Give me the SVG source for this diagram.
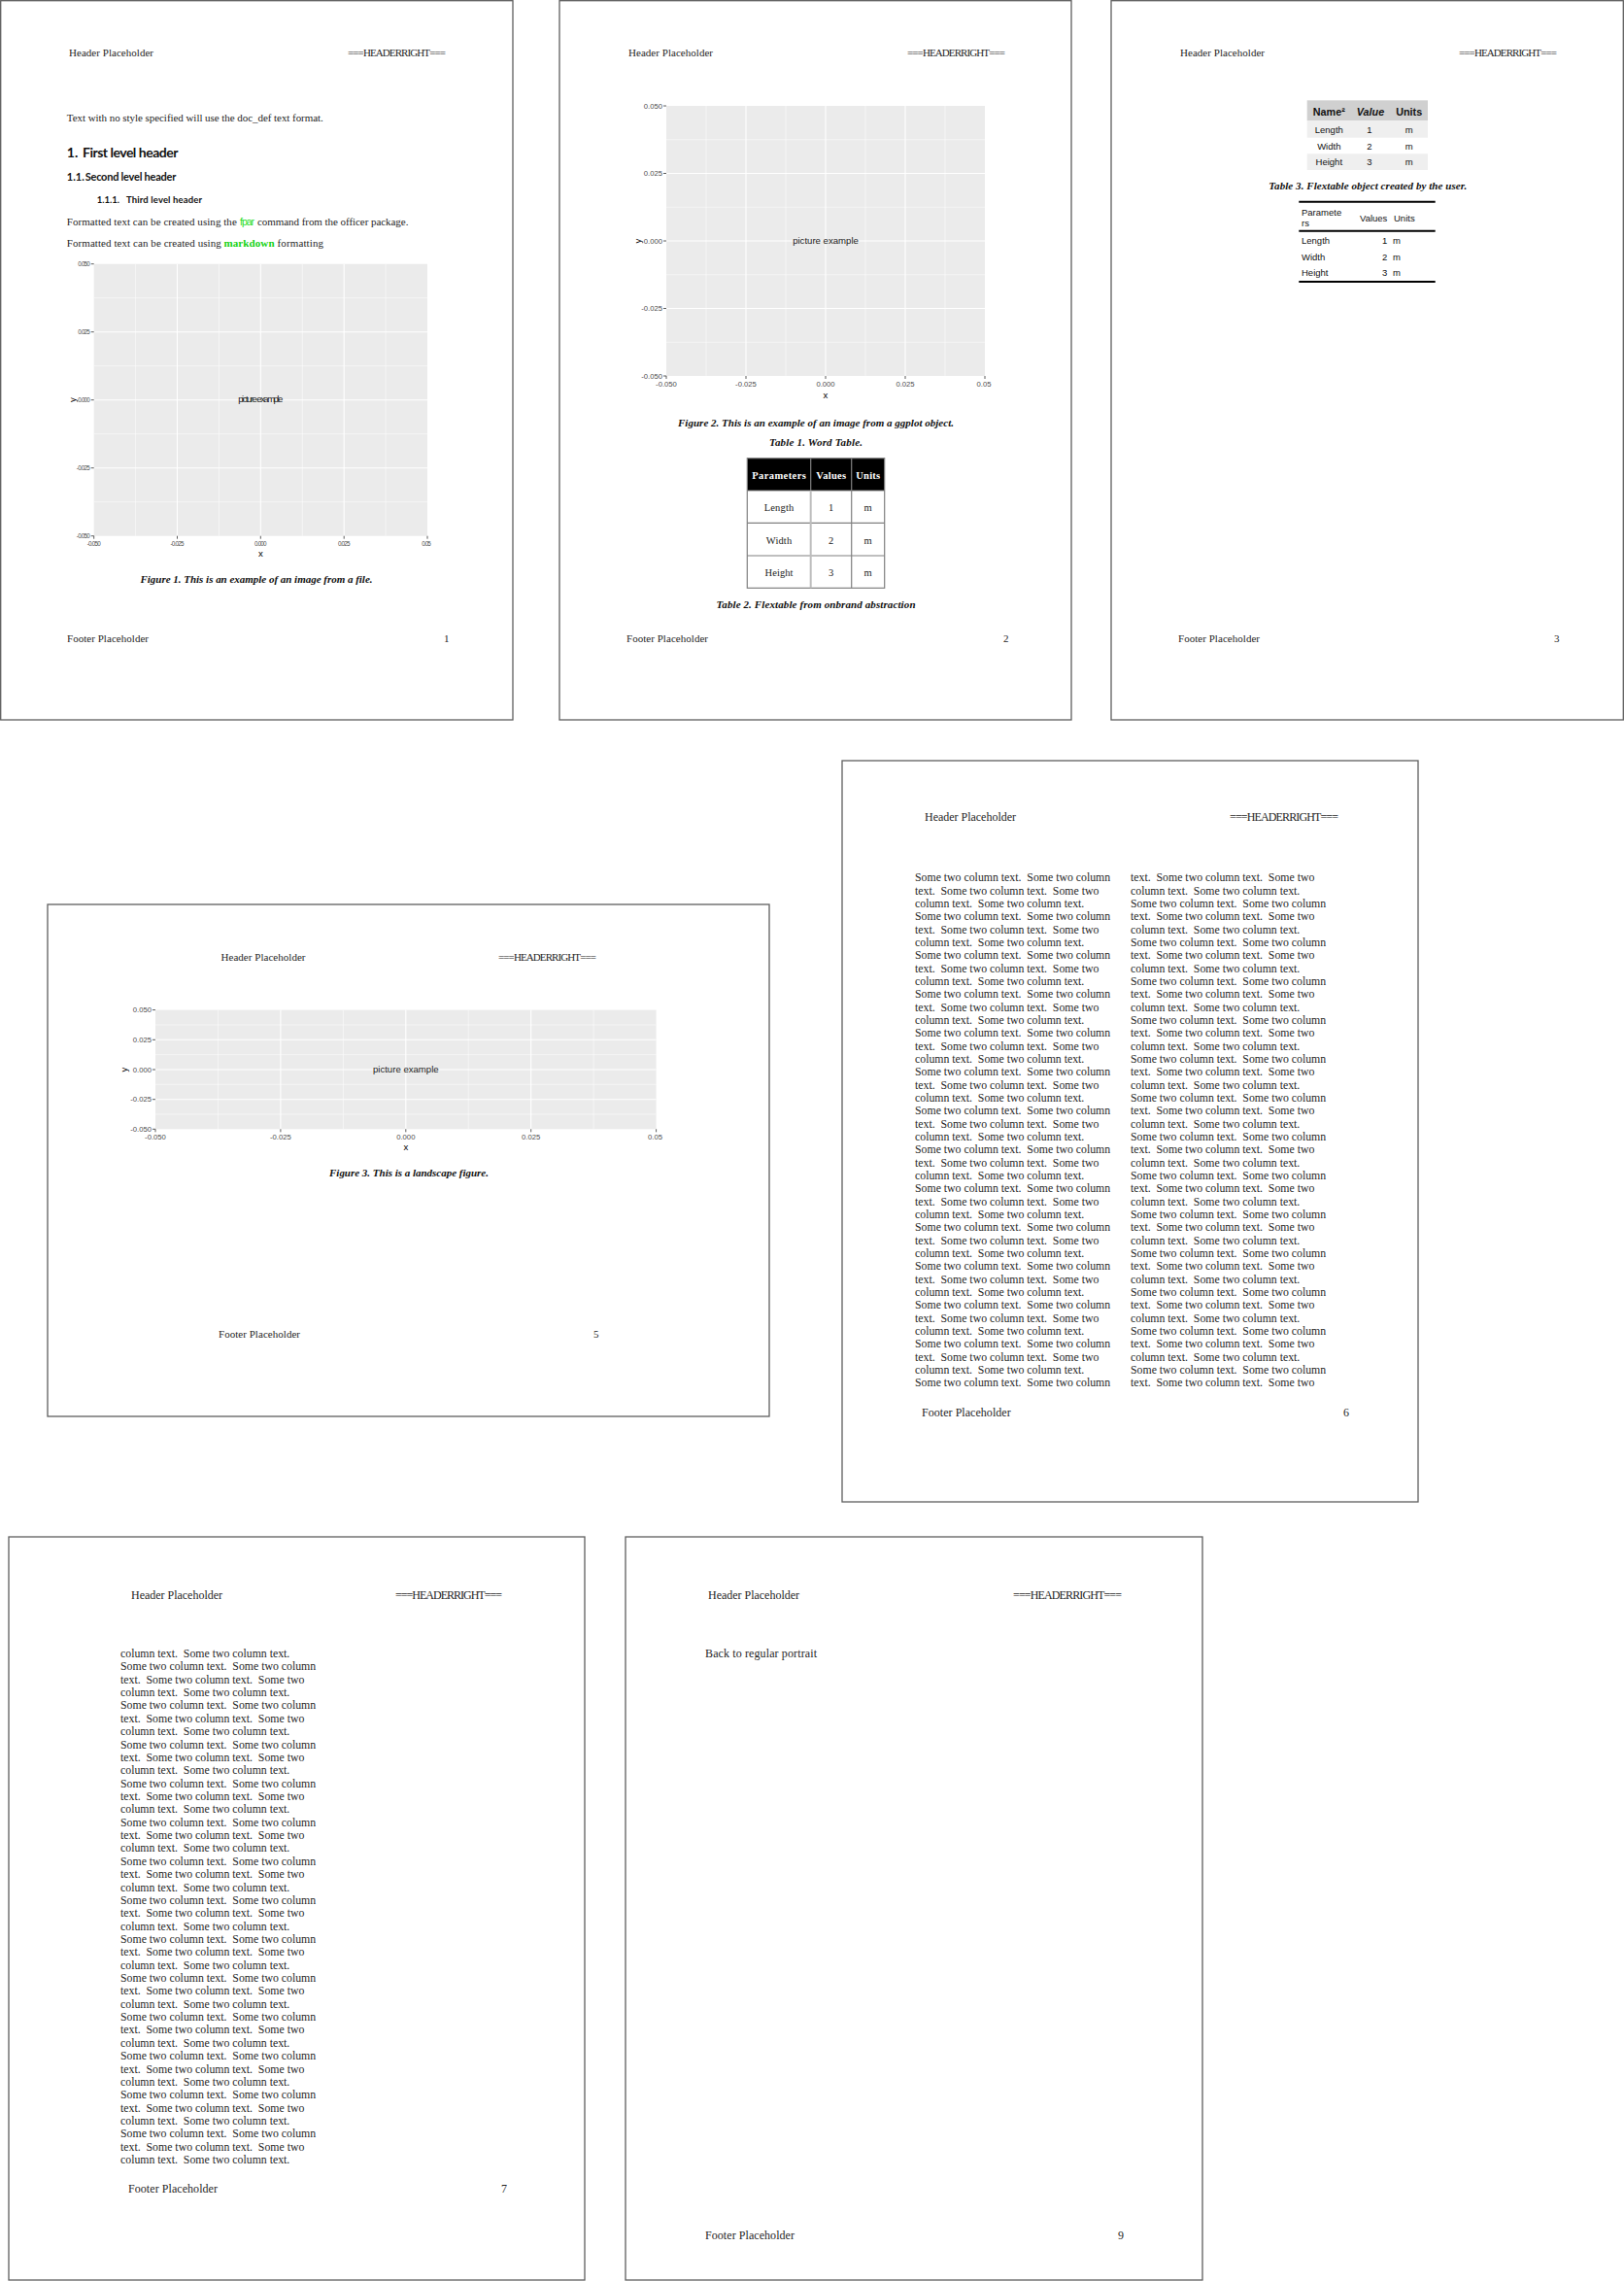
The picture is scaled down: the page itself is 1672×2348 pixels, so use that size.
<svg xmlns="http://www.w3.org/2000/svg" width="1672" height="2348" viewBox="0 0 1672 2348">
<style>
.pgrp{opacity:0.998}
.pg{fill:#fff;stroke:#5f5f5f;stroke-width:1.3}
.hd{font-family:"Liberation Serif",serif;font-size:11px;fill:#262626}
.hd2{font-family:"Liberation Serif",serif;font-size:12px;fill:#262626}
.body{font-family:"Liberation Serif",serif;font-size:11px;fill:#262626}
.cap{font-family:"Liberation Serif",serif;font-weight:bold;font-style:italic;font-size:11px;fill:#111;text-anchor:middle}
.h{font-family:Lato,"Liberation Sans",sans-serif;font-weight:bold;fill:#111}
.col{font-family:"Liberation Serif",serif;font-size:11.8px;fill:#262626;white-space:pre}
.panel{fill:#EBEBEB}
.gmaj{stroke:#fff;stroke-width:1.1}
.gmin{stroke:#fff;stroke-width:0.5}
.tick{stroke:#333;stroke-width:0.8}
.tl{font-family:"Liberation Sans",sans-serif;font-size:7.7px;fill:#4D4D4D}
.tlc{font-family:"Liberation Sans",sans-serif;font-size:6.3px;fill:#4D4D4D}
.ax{font-family:"Liberation Sans",sans-serif;font-size:9.6px;fill:#000;text-anchor:middle}
.pe{font-family:"Liberation Sans",sans-serif;font-size:9.6px;fill:#1a1a1a;text-anchor:middle}
.end{text-anchor:end}
.mid{text-anchor:middle}
.tb{font-family:"Liberation Serif",serif;font-size:10.5px;fill:#222;text-anchor:middle}
.tbh{font-family:"Liberation Serif",serif;font-size:10.5px;font-weight:bold;fill:#fff;text-anchor:middle}
.ft{font-family:"Liberation Sans",sans-serif;font-size:9.5px;fill:#111}
.fth{font-family:"Liberation Sans",sans-serif;font-size:10.8px;font-weight:bold;fill:#111;text-anchor:middle}
.cell{stroke:#808080;stroke-width:1.2;fill:none}
.rule{stroke:#000;stroke-width:2}
</style>

<g id="page1" class="pgrp">
<rect class="pg" x="0.7" y="0.7" width="527.3" height="740.3"/>
<text class="hd" x="71" y="58" textLength="87">Header Placeholder</text>
<text class="hd" x="358" y="58" textLength="101">===HEADERRIGHT===</text>
<text class="body" x="68.8" y="124.5" textLength="264">Text with no style specified will use the doc_def text format.</text>
<text class="h" x="68.8" y="161.5" font-size="14">1.</text>
<text class="h" x="85" y="161.5" font-size="14" textLength="98.4">First level header</text>
<text class="h" x="68.8" y="185.5" font-size="11">1.1.</text>
<text class="h" x="87.7" y="185.5" font-size="11" textLength="93.6">Second level header</text>
<text class="h" x="99.8" y="209" font-size="9.5">1.1.1.</text>
<text class="h" x="130" y="209" font-size="9.5" textLength="78">Third level header</text>
<text class="body" x="68.8" y="232" textLength="175">Formatted text can be created using the</text>
<text x="247" y="232" font-family="Liberation Sans,sans-serif" font-size="10.5" fill="#1EDC1E" textLength="15">fpar</text>
<text class="body" x="265" y="232" textLength="155.4">command from the officer package.</text>
<text class="body" x="68.8" y="254" textLength="159">Formatted text can be created using</text>
<text class="body" x="230.5" y="254" font-weight="bold" style="fill:#14D214" textLength="52">markdown</text>
<text class="body" x="285.6" y="254" textLength="47.4">formatting</text>
<g id="plot1">
<rect class="panel" x="96.7" y="271.7" width="343.3" height="280"/>
<line class="gmin" x1="139.6" y1="271.7" x2="139.6" y2="551.7"/>
<line class="gmin" x1="225.4" y1="271.7" x2="225.4" y2="551.7"/>
<line class="gmin" x1="311.3" y1="271.7" x2="311.3" y2="551.7"/>
<line class="gmin" x1="397.1" y1="271.7" x2="397.1" y2="551.7"/>
<line class="gmin" x1="96.7" y1="306.7" x2="440" y2="306.7"/>
<line class="gmin" x1="96.7" y1="376.7" x2="440" y2="376.7"/>
<line class="gmin" x1="96.7" y1="446.7" x2="440" y2="446.7"/>
<line class="gmin" x1="96.7" y1="516.7" x2="440" y2="516.7"/>
<line class="gmaj" x1="182.5" y1="271.7" x2="182.5" y2="551.7"/>
<line class="gmaj" x1="268.3" y1="271.7" x2="268.3" y2="551.7"/>
<line class="gmaj" x1="354.2" y1="271.7" x2="354.2" y2="551.7"/>
<line class="gmaj" x1="96.7" y1="341.7" x2="440" y2="341.7"/>
<line class="gmaj" x1="96.7" y1="411.7" x2="440" y2="411.7"/>
<line class="gmaj" x1="96.7" y1="481.7" x2="440" y2="481.7"/>
<path class="tick" d="M93.7 271.7H96.7M93.7 341.7H96.7M93.7 411.7H96.7M93.7 481.7H96.7M93.7 551.7H96.7M96.7 551.7V554.7M182.5 551.7V554.7M268.3 551.7V554.7M354.2 551.7V554.7M440 551.7V554.7"/>
<text class="tlc end" x="92.8" y="273.9" textLength="12.5">0.050</text>
<text class="tlc end" x="92.8" y="343.9" textLength="12.5">0.025</text>
<text class="tlc end" x="92.8" y="413.9" textLength="12.5">0.000</text>
<text class="tlc end" x="92.8" y="483.9" textLength="14">-0.025</text>
<text class="tlc end" x="92.8" y="553.9" textLength="14">-0.050</text>
<text class="tlc mid" x="96.7" y="561.5" textLength="14">-0.050</text>
<text class="tlc mid" x="182.5" y="561.5" textLength="14">-0.025</text>
<text class="tlc mid" x="268.3" y="561.5" textLength="12.5">0.000</text>
<text class="tlc mid" x="354.2" y="561.5" textLength="12.5">0.025</text>
<text class="tlc mid" x="439" y="561.5" textLength="9.5">0.05</text>
<text class="ax" x="268.3" y="573" font-size="7.5">x</text>
<text class="ax" x="0" y="0" font-size="7.5" transform="translate(77.5 411.7) rotate(-90)">y</text>
<text class="pe" x="268.3" y="414.3" font-size="7" textLength="46">picture example</text>
</g>
<text class="cap" x="264" y="600" textLength="239">Figure 1. This is an example of an image from a file.</text>
<text class="hd" x="69" y="661" textLength="84">Footer Placeholder</text>
<text class="hd" x="457" y="661">1</text>
</g>

<g id="page2" class="pgrp">
<rect class="pg" x="576" y="0.7" width="527" height="740.3"/>
<text class="hd" x="647" y="58" textLength="87">Header Placeholder</text>
<text class="hd" x="934" y="58" textLength="101">===HEADERRIGHT===</text>
<g id="plot2">
<rect class="panel" x="686" y="109" width="328" height="278"/>
<line class="gmin" x1="727" y1="109" x2="727" y2="387"/>
<line class="gmin" x1="809" y1="109" x2="809" y2="387"/>
<line class="gmin" x1="891" y1="109" x2="891" y2="387"/>
<line class="gmin" x1="973" y1="109" x2="973" y2="387"/>
<line class="gmin" x1="686" y1="143.75" x2="1014" y2="143.75"/>
<line class="gmin" x1="686" y1="213.25" x2="1014" y2="213.25"/>
<line class="gmin" x1="686" y1="282.75" x2="1014" y2="282.75"/>
<line class="gmin" x1="686" y1="352.25" x2="1014" y2="352.25"/>
<line class="gmaj" x1="768" y1="109" x2="768" y2="387"/>
<line class="gmaj" x1="850" y1="109" x2="850" y2="387"/>
<line class="gmaj" x1="932" y1="109" x2="932" y2="387"/>
<line class="gmaj" x1="686" y1="178.5" x2="1014" y2="178.5"/>
<line class="gmaj" x1="686" y1="248" x2="1014" y2="248"/>
<line class="gmaj" x1="686" y1="317.5" x2="1014" y2="317.5"/>
<path class="tick" d="M683 109H686M683 178.5H686M683 248H686M683 317.5H686M683 387H686M686 387V390M768 387V390M850 387V390M932 387V390M1014 387V390"/>
<text class="tl end" x="682" y="111.7">0.050</text>
<text class="tl end" x="682" y="181.2">0.025</text>
<text class="tl end" x="682" y="250.7">0.000</text>
<text class="tl end" x="682" y="320.2">-0.025</text>
<text class="tl end" x="682" y="389.7">-0.050</text>
<text class="tl mid" x="686" y="397.5">-0.050</text>
<text class="tl mid" x="768" y="397.5">-0.025</text>
<text class="tl mid" x="850" y="397.5">0.000</text>
<text class="tl mid" x="932" y="397.5">0.025</text>
<text class="tl mid" x="1013" y="397.5">0.05</text>
<text class="ax" x="850" y="409.5">x</text>
<text class="ax" x="0" y="0" transform="translate(659.5 248) rotate(-90)">y</text>
<text class="pe" x="850" y="251.4">picture example</text>
</g>
<text class="cap" x="840" y="438.5" textLength="284">Figure 2. This is an example of an image from a ggplot object.</text>
<text class="cap" x="840" y="458.5" textLength="96">Table 1. Word Table.</text>
<g id="table1">
<rect x="769.3" y="471.7" width="141.4" height="33.3" fill="#000"/>
<rect class="cell" x="769.3" y="471.7" width="141.4" height="133.6"/>
<path class="cell" d="M769.3 505H910.7M769.3 538.3H910.7M769.3 572H910.7M876.7 471.7V605.3M834.7 471.7V505"/>
<path d="M834.7 505V605.3" stroke="#BDBDBD" stroke-width="2"/>
<text class="tbh" x="802" y="492.5" textLength="55.7">Parameters</text>
<text class="tbh" x="855.7" y="492.5" textLength="31">Values</text>
<text class="tbh" x="893.7" y="492.5" textLength="25">Units</text>
<text class="tb" x="802" y="526" textLength="30.7">Length</text>
<text class="tb" x="855.7" y="526">1</text>
<text class="tb" x="893.7" y="526">m</text>
<text class="tb" x="802" y="559.7" textLength="26.3">Width</text>
<text class="tb" x="855.7" y="559.7">2</text>
<text class="tb" x="893.7" y="559.7">m</text>
<text class="tb" x="802" y="593.4" textLength="29">Height</text>
<text class="tb" x="855.7" y="593.4">3</text>
<text class="tb" x="893.7" y="593.4">m</text>
</g>
<text class="cap" x="840" y="626" textLength="205">Table 2. Flextable from onbrand abstraction</text>
<text class="hd" x="645" y="661" textLength="84">Footer Placeholder</text>
<text class="hd" x="1033" y="661">2</text>
</g>

<g id="page3" class="pgrp">
<rect class="pg" x="1144" y="0.7" width="527.3" height="740.3"/>
<text class="hd" x="1215" y="58" textLength="87">Header Placeholder</text>
<text class="hd" x="1502" y="58" textLength="101">===HEADERRIGHT===</text>
<g id="table3a">
<rect x="1345.7" y="103.3" width="124.3" height="21" fill="#D0D0D0"/>
<rect x="1345.7" y="124.3" width="124.3" height="17.4" fill="#EFEFEF"/>
<rect x="1345.7" y="158.3" width="124.3" height="16.7" fill="#EFEFEF"/>
<text class="fth" x="1368.3" y="118.8">Name²</text>
<text class="fth" x="1411" y="118.8" font-style="italic">Value</text>
<text class="fth" x="1450.7" y="118.8">Units</text>
<text class="ft mid" x="1368.3" y="136.8">Length</text>
<text class="ft mid" x="1410" y="136.8">1</text>
<text class="ft mid" x="1450.7" y="136.8">m</text>
<text class="ft mid" x="1368.3" y="153.5">Width</text>
<text class="ft mid" x="1410" y="153.5">2</text>
<text class="ft mid" x="1450.7" y="153.5">m</text>
<text class="ft mid" x="1368.3" y="170.2">Height</text>
<text class="ft mid" x="1410" y="170.2">3</text>
<text class="ft mid" x="1450.7" y="170.2">m</text>
</g>
<text class="cap" x="1408.3" y="195" textLength="204">Table 3. Flextable object created by the user.</text>
<g id="table3b">
<path class="rule" d="M1337.3 207.7H1477.7M1337.3 237.7H1477.7M1337.3 290H1477.7"/>
<text class="ft" x="1340" y="221.5">Paramete</text>
<text class="ft" x="1340" y="232.5">rs</text>
<text class="ft" x="1400" y="227.5">Values</text>
<text class="ft" x="1435" y="227.5">Units</text>
<text class="ft" x="1340" y="250.8">Length</text>
<text class="ft end" x="1428.3" y="250.8">1</text>
<text class="ft" x="1434" y="250.8">m</text>
<text class="ft" x="1340" y="267.5">Width</text>
<text class="ft end" x="1428.3" y="267.5">2</text>
<text class="ft" x="1434" y="267.5">m</text>
<text class="ft" x="1340" y="284.2">Height</text>
<text class="ft end" x="1428.3" y="284.2">3</text>
<text class="ft" x="1434" y="284.2">m</text>
</g>
<text class="hd" x="1213" y="661" textLength="84">Footer Placeholder</text>
<text class="hd" x="1600" y="661">3</text>
</g>

<g id="page5" class="pgrp">
<rect class="pg" x="49" y="931" width="743" height="527"/>
<text class="hd" x="227.5" y="989" textLength="87">Header Placeholder</text>
<text class="hd" x="513" y="989" textLength="101">===HEADERRIGHT===</text>
<g id="plot3">
<rect class="panel" x="160" y="1039.6" width="515.6" height="122.7"/>
<line class="gmin" x1="224.5" y1="1039.6" x2="224.5" y2="1162.3"/>
<line class="gmin" x1="353.4" y1="1039.6" x2="353.4" y2="1162.3"/>
<line class="gmin" x1="482.2" y1="1039.6" x2="482.2" y2="1162.3"/>
<line class="gmin" x1="611.1" y1="1039.6" x2="611.1" y2="1162.3"/>
<line class="gmin" x1="160" y1="1055" x2="675.6" y2="1055"/>
<line class="gmin" x1="160" y1="1085.7" x2="675.6" y2="1085.7"/>
<line class="gmin" x1="160" y1="1116.3" x2="675.6" y2="1116.3"/>
<line class="gmin" x1="160" y1="1147" x2="675.6" y2="1147"/>
<line class="gmaj" x1="288.9" y1="1039.6" x2="288.9" y2="1162.3"/>
<line class="gmaj" x1="417.8" y1="1039.6" x2="417.8" y2="1162.3"/>
<line class="gmaj" x1="546.7" y1="1039.6" x2="546.7" y2="1162.3"/>
<line class="gmaj" x1="160" y1="1070.3" x2="675.6" y2="1070.3"/>
<line class="gmaj" x1="160" y1="1101" x2="675.6" y2="1101"/>
<line class="gmaj" x1="160" y1="1131.7" x2="675.6" y2="1131.7"/>
<path class="tick" d="M157 1039.6H160M157 1070.3H160M157 1101H160M157 1131.7H160M157 1162.3H160M160 1162.3V1165.3M288.9 1162.3V1165.3M417.8 1162.3V1165.3M546.7 1162.3V1165.3M675.6 1162.3V1165.3"/>
<text class="tl end" x="156" y="1042.3">0.050</text>
<text class="tl end" x="156" y="1073">0.025</text>
<text class="tl end" x="156" y="1103.7">0.000</text>
<text class="tl end" x="156" y="1134.4">-0.025</text>
<text class="tl end" x="156" y="1165">-0.050</text>
<text class="tl mid" x="160" y="1173">-0.050</text>
<text class="tl mid" x="288.9" y="1173">-0.025</text>
<text class="tl mid" x="417.8" y="1173">0.000</text>
<text class="tl mid" x="546.7" y="1173">0.025</text>
<text class="tl mid" x="674.5" y="1173">0.05</text>
<text class="ax" x="417.8" y="1184">x</text>
<text class="ax" x="0" y="0" transform="translate(131 1101) rotate(-90)">y</text>
<text class="pe" x="417.8" y="1104.4">picture example</text>
</g>
<text class="cap" x="421" y="1211" textLength="164">Figure 3. This is a landscape figure.</text>
<text class="hd" x="225" y="1377" textLength="84">Footer Placeholder</text>
<text class="hd" x="611" y="1377">5</text>
</g>

<g id="page6" class="pgrp" xml:space="preserve">
<rect class="pg" x="867" y="783" width="593" height="763"/>
<text class="hd2" x="952" y="845" textLength="94">Header Placeholder</text>
<text class="hd2" x="1266" y="845" textLength="112">===HEADERRIGHT===</text>
<g id="col6a">
<text class="col" x="942" y="907.3">Some two column text.  Some two column</text>
<text class="col" x="942" y="920.6">text.  Some two column text.  Some two</text>
<text class="col" x="942" y="934">column text.  Some two column text.</text>
<text class="col" x="942" y="947.3">Some two column text.  Some two column</text>
<text class="col" x="942" y="960.6">text.  Some two column text.  Some two</text>
<text class="col" x="942" y="974">column text.  Some two column text.</text>
<text class="col" x="942" y="987.3">Some two column text.  Some two column</text>
<text class="col" x="942" y="1000.6">text.  Some two column text.  Some two</text>
<text class="col" x="942" y="1014">column text.  Some two column text.</text>
<text class="col" x="942" y="1027.3">Some two column text.  Some two column</text>
<text class="col" x="942" y="1040.6">text.  Some two column text.  Some two</text>
<text class="col" x="942" y="1054">column text.  Some two column text.</text>
<text class="col" x="942" y="1067.3">Some two column text.  Some two column</text>
<text class="col" x="942" y="1080.6">text.  Some two column text.  Some two</text>
<text class="col" x="942" y="1094">column text.  Some two column text.</text>
<text class="col" x="942" y="1107.3">Some two column text.  Some two column</text>
<text class="col" x="942" y="1120.6">text.  Some two column text.  Some two</text>
<text class="col" x="942" y="1134">column text.  Some two column text.</text>
<text class="col" x="942" y="1147.3">Some two column text.  Some two column</text>
<text class="col" x="942" y="1160.6">text.  Some two column text.  Some two</text>
<text class="col" x="942" y="1174">column text.  Some two column text.</text>
<text class="col" x="942" y="1187.3">Some two column text.  Some two column</text>
<text class="col" x="942" y="1200.6">text.  Some two column text.  Some two</text>
<text class="col" x="942" y="1214">column text.  Some two column text.</text>
<text class="col" x="942" y="1227.3">Some two column text.  Some two column</text>
<text class="col" x="942" y="1240.6">text.  Some two column text.  Some two</text>
<text class="col" x="942" y="1254">column text.  Some two column text.</text>
<text class="col" x="942" y="1267.3">Some two column text.  Some two column</text>
<text class="col" x="942" y="1280.6">text.  Some two column text.  Some two</text>
<text class="col" x="942" y="1294">column text.  Some two column text.</text>
<text class="col" x="942" y="1307.3">Some two column text.  Some two column</text>
<text class="col" x="942" y="1320.6">text.  Some two column text.  Some two</text>
<text class="col" x="942" y="1334">column text.  Some two column text.</text>
<text class="col" x="942" y="1347.3">Some two column text.  Some two column</text>
<text class="col" x="942" y="1360.6">text.  Some two column text.  Some two</text>
<text class="col" x="942" y="1374">column text.  Some two column text.</text>
<text class="col" x="942" y="1387.3">Some two column text.  Some two column</text>
<text class="col" x="942" y="1400.6">text.  Some two column text.  Some two</text>
<text class="col" x="942" y="1414">column text.  Some two column text.</text>
<text class="col" x="942" y="1427.3">Some two column text.  Some two column</text>
</g>
<g id="col6b">
<text class="col" x="1164" y="907.3">text.  Some two column text.  Some two</text>
<text class="col" x="1164" y="920.6">column text.  Some two column text.</text>
<text class="col" x="1164" y="934">Some two column text.  Some two column</text>
<text class="col" x="1164" y="947.3">text.  Some two column text.  Some two</text>
<text class="col" x="1164" y="960.6">column text.  Some two column text.</text>
<text class="col" x="1164" y="974">Some two column text.  Some two column</text>
<text class="col" x="1164" y="987.3">text.  Some two column text.  Some two</text>
<text class="col" x="1164" y="1000.6">column text.  Some two column text.</text>
<text class="col" x="1164" y="1014">Some two column text.  Some two column</text>
<text class="col" x="1164" y="1027.3">text.  Some two column text.  Some two</text>
<text class="col" x="1164" y="1040.6">column text.  Some two column text.</text>
<text class="col" x="1164" y="1054">Some two column text.  Some two column</text>
<text class="col" x="1164" y="1067.3">text.  Some two column text.  Some two</text>
<text class="col" x="1164" y="1080.6">column text.  Some two column text.</text>
<text class="col" x="1164" y="1094">Some two column text.  Some two column</text>
<text class="col" x="1164" y="1107.3">text.  Some two column text.  Some two</text>
<text class="col" x="1164" y="1120.6">column text.  Some two column text.</text>
<text class="col" x="1164" y="1134">Some two column text.  Some two column</text>
<text class="col" x="1164" y="1147.3">text.  Some two column text.  Some two</text>
<text class="col" x="1164" y="1160.6">column text.  Some two column text.</text>
<text class="col" x="1164" y="1174">Some two column text.  Some two column</text>
<text class="col" x="1164" y="1187.3">text.  Some two column text.  Some two</text>
<text class="col" x="1164" y="1200.6">column text.  Some two column text.</text>
<text class="col" x="1164" y="1214">Some two column text.  Some two column</text>
<text class="col" x="1164" y="1227.3">text.  Some two column text.  Some two</text>
<text class="col" x="1164" y="1240.6">column text.  Some two column text.</text>
<text class="col" x="1164" y="1254">Some two column text.  Some two column</text>
<text class="col" x="1164" y="1267.3">text.  Some two column text.  Some two</text>
<text class="col" x="1164" y="1280.6">column text.  Some two column text.</text>
<text class="col" x="1164" y="1294">Some two column text.  Some two column</text>
<text class="col" x="1164" y="1307.3">text.  Some two column text.  Some two</text>
<text class="col" x="1164" y="1320.6">column text.  Some two column text.</text>
<text class="col" x="1164" y="1334">Some two column text.  Some two column</text>
<text class="col" x="1164" y="1347.3">text.  Some two column text.  Some two</text>
<text class="col" x="1164" y="1360.6">column text.  Some two column text.</text>
<text class="col" x="1164" y="1374">Some two column text.  Some two column</text>
<text class="col" x="1164" y="1387.3">text.  Some two column text.  Some two</text>
<text class="col" x="1164" y="1400.6">column text.  Some two column text.</text>
<text class="col" x="1164" y="1414">Some two column text.  Some two column</text>
<text class="col" x="1164" y="1427.3">text.  Some two column text.  Some two</text>
</g>
<text class="hd2" x="949" y="1458" textLength="91.7">Footer Placeholder</text>
<text class="hd2" x="1383" y="1458">6</text>
</g>

<g id="page7" class="pgrp" xml:space="preserve">
<rect class="pg" x="9" y="1582" width="593" height="765"/>
<text class="hd2" x="135" y="1646" textLength="94">Header Placeholder</text>
<text class="hd2" x="407" y="1646" textLength="110">===HEADERRIGHT===</text>
<g id="col7">
<text class="col" x="124" y="1706">column text.  Some two column text.</text>
<text class="col" x="124" y="1719.4">Some two column text.  Some two column</text>
<text class="col" x="124" y="1732.7">text.  Some two column text.  Some two</text>
<text class="col" x="124" y="1746.1">column text.  Some two column text.</text>
<text class="col" x="124" y="1759.4">Some two column text.  Some two column</text>
<text class="col" x="124" y="1772.8">text.  Some two column text.  Some two</text>
<text class="col" x="124" y="1786.2">column text.  Some two column text.</text>
<text class="col" x="124" y="1799.5">Some two column text.  Some two column</text>
<text class="col" x="124" y="1812.9">text.  Some two column text.  Some two</text>
<text class="col" x="124" y="1826.2">column text.  Some two column text.</text>
<text class="col" x="124" y="1839.6">Some two column text.  Some two column</text>
<text class="col" x="124" y="1853">text.  Some two column text.  Some two</text>
<text class="col" x="124" y="1866.3">column text.  Some two column text.</text>
<text class="col" x="124" y="1879.7">Some two column text.  Some two column</text>
<text class="col" x="124" y="1893">text.  Some two column text.  Some two</text>
<text class="col" x="124" y="1906.4">column text.  Some two column text.</text>
<text class="col" x="124" y="1919.8">Some two column text.  Some two column</text>
<text class="col" x="124" y="1933.1">text.  Some two column text.  Some two</text>
<text class="col" x="124" y="1946.5">column text.  Some two column text.</text>
<text class="col" x="124" y="1959.8">Some two column text.  Some two column</text>
<text class="col" x="124" y="1973.2">text.  Some two column text.  Some two</text>
<text class="col" x="124" y="1986.6">column text.  Some two column text.</text>
<text class="col" x="124" y="1999.9">Some two column text.  Some two column</text>
<text class="col" x="124" y="2013.3">text.  Some two column text.  Some two</text>
<text class="col" x="124" y="2026.6">column text.  Some two column text.</text>
<text class="col" x="124" y="2040">Some two column text.  Some two column</text>
<text class="col" x="124" y="2053.4">text.  Some two column text.  Some two</text>
<text class="col" x="124" y="2066.7">column text.  Some two column text.</text>
<text class="col" x="124" y="2080.1">Some two column text.  Some two column</text>
<text class="col" x="124" y="2093.4">text.  Some two column text.  Some two</text>
<text class="col" x="124" y="2106.8">column text.  Some two column text.</text>
<text class="col" x="124" y="2120.2">Some two column text.  Some two column</text>
<text class="col" x="124" y="2133.5">text.  Some two column text.  Some two</text>
<text class="col" x="124" y="2146.9">column text.  Some two column text.</text>
<text class="col" x="124" y="2160.2">Some two column text.  Some two column</text>
<text class="col" x="124" y="2173.6">text.  Some two column text.  Some two</text>
<text class="col" x="124" y="2187">column text.  Some two column text.</text>
<text class="col" x="124" y="2200.3">Some two column text.  Some two column</text>
<text class="col" x="124" y="2213.7">text.  Some two column text.  Some two</text>
<text class="col" x="124" y="2227">column text.  Some two column text.</text>
</g>
<text class="hd2" x="132" y="2257" textLength="92">Footer Placeholder</text>
<text class="hd2" x="516" y="2257">7</text>
</g>

<g id="page9" class="pgrp">
<rect class="pg" x="644" y="1582" width="594" height="765"/>
<text class="hd2" x="729" y="1646" textLength="94">Header Placeholder</text>
<text class="hd2" x="1043" y="1646" textLength="112">===HEADERRIGHT===</text>
<text class="hd2" x="726" y="1706" textLength="115">Back to regular portrait</text>
<text class="hd2" x="726" y="2305" textLength="92">Footer Placeholder</text>
<text class="hd2" x="1151" y="2305">9</text>
</g>

<g id="connectors"/>
</svg>
